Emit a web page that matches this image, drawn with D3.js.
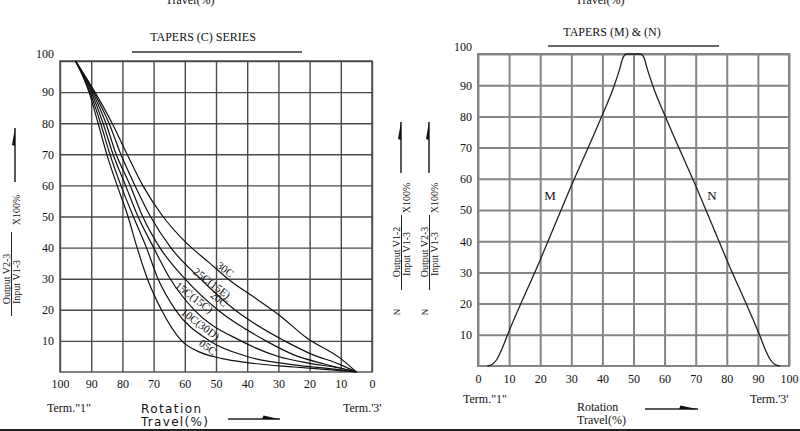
<!DOCTYPE html>
<html><head><meta charset="utf-8">
<script src="https://cdn.jsdelivr.net/npm/d3@7"></script>
<style>
body{margin:0;background:#fff;}
svg{display:block;background:#fff;}
text{font-family:"Liberation Serif","Times New Roman",serif;fill:#111;}
</style></head><body>
<svg id="c" width="800" height="431"></svg>
<script>
// ---------- DATA ----------
const tickValues = [0,10,20,30,40,50,60,70,80,90,100];
const yTickValues = [10,20,30,40,50,60,70,80,90,100];

// Tapers (C) series: [rotation travel %, output %]
const c30C = [[95,100],[88.8,90],[83.3,80],[78.5,70],[73.5,60],[67,50],[60,42],[52,35],[45,29],[37,23.5],[30,18.5],[21,11],[10,4.3],[5,0]];
const c25C = [[95,100],[89.2,90],[84.3,80],[80.5,70],[76,60],[71,50],[64.5,40],[55,30],[44,20],[28,10],[20,6],[10,2.3],[5,0]];
const c20C = [[95,100],[89.6,90],[85.3,80],[82,70],[77.5,60],[73.5,50],[68,40],[60,30],[49.5,20],[34,10],[25,5.5],[15,2.5],[5,0]];
const c15C = [[95,100],[90,90],[86.2,80],[83,70],[79,60],[75,50],[70,40],[64.7,30],[57,20],[42,10],[30,5],[20,2.8],[10,1.2],[5,0]];
const c10C = [[95,100],[90.4,90],[87,80],[84,70],[80.5,60],[76.5,50],[72.3,40],[68.6,30],[63,20],[52,10],[40,5],[25,2.3],[12,0.9],[5,0]];
const c05C = [[95,100],[90.7,90],[87.8,80],[85,70],[81.7,60],[78.2,50],[75.3,40],[72,30],[67.5,20],[61,10],[55,6.3],[48,4.3],[40,3],[25,1.6],[12,0.6],[5,0]];
const cSeries = [c30C,c25C,c20C,c15C,c10C,c05C];

const cLabels = ["30C","25C(15E)","20C","15C(15C)","10C(30D)","05C"];
const cLabelTravel = [47,51.3,49,57,55,52.6];
const cLabelOutput = [33,28.6,23.5,24,15.4,8];

// Tapers (M) & (N)
const mTaper = [[3,0],[4.5,0.5],[6,2],[7.5,5],[9.5,10],[20,34],[28.6,54.5],[40,80.5],[43.5,89],[45.5,95],[46.7,99],[47.8,100],[50,100]];
const nTaper = [[50,100],[52.2,100],[53.3,99],[54.5,95],[56.5,89],[60,80.5],[71.4,54.5],[80,34],[90.5,10],[92.5,5],[94,2],[95.5,0.5],[97,0]];
const mnLabels = ["M","N"];
const mnLabelTravel = [23.2,75.2];
const mnLabelOutput = [54.8,54.8];

// ---------- DRAW ----------
const svg = d3.select("#c");

function grid(x, y, col, w, padX, padY){
  const g = svg.append("g");
  const [x0,x1] = d3.extent(x.range());
  const [y1,y0] = [y.range()[0], y.range()[1]];
  const ax = g.append("g").attr("transform",`translate(0,${y1})`)
    .call(d3.axisBottom(x).tickValues(tickValues).tickSize(-(y1-y0)).tickPadding(padX).tickFormat(d3.format("d")));
  const ay = g.append("g").attr("transform",`translate(${x0},0)`)
    .call(d3.axisLeft(y).tickValues(yTickValues).tickSize(-(x1-x0)).tickPadding(padY).tickFormat(d3.format("d")));
  [ax,ay].forEach(a=>{
    a.select(".domain").remove();
    a.selectAll("line").attr("stroke",col).attr("stroke-width",w);
    a.selectAll("text").attr("font-size",12).attr("fill","#111")
      .style("font-family",'"Liberation Serif",serif');
  });
  ay.selectAll(".tick text").filter(d=>d===100).attr("dy","-0.3em");
  g.append("rect").attr("x",x0).attr("y",y0).attr("width",x1-x0).attr("height",y1-y0)
    .attr("fill","none").attr("stroke",col).attr("stroke-width",w);
  return g;
}

// Left chart
const xL = d3.scaleLinear().domain([100,0]).range([60,372]);
const yL = d3.scaleLinear().domain([0,100]).range([372,61]);
grid(xL,yL,"#4a4a4a",1.4,7.5,6);

const lineL = d3.line().x(d=>xL(d[0])).y(d=>yL(d[1])).curve(d3.curveMonotoneX);
svg.append("g").selectAll("path").data(cSeries).join("path")
  .attr("d",d=>lineL([...d].sort((a,b)=>b[0]-a[0])))
  .attr("fill","none").attr("stroke","#111").attr("stroke-width",1.2);

svg.append("g").selectAll("text").data(cLabels).join("text")
  .attr("transform",(d,i)=>`translate(${xL(cLabelTravel[i])},${yL(cLabelOutput[i])}) rotate(37)`)
  .attr("text-anchor","middle").attr("dy","0.35em").attr("font-size",11).text(d=>d);

// Right chart
const xR = d3.scaleLinear().domain([0,100]).range([478,789]);
const yR = d3.scaleLinear().domain([0,100]).range([366,54]);
grid(xR,yR,"#858585",2,8.5,6);

const lineR = d3.line().x(d=>xR(d[0])).y(d=>yR(d[1])).curve(d3.curveMonotoneX);
svg.append("g").selectAll("path").data([mTaper,nTaper]).join("path")
  .attr("d",lineR).attr("fill","none").attr("stroke","#222").attr("stroke-width",1.3);
svg.append("g").selectAll("text").data(mnLabels).join("text")
  .attr("x",(d,i)=>xR(mnLabelTravel[i])).attr("y",(d,i)=>yR(mnLabelOutput[i]))
  .attr("text-anchor","middle").attr("dy","0.35em").attr("font-size",13).text(d=>d);

// Titles
function txt(x,y,s,size,anchor,extra){
  const t = svg.append("text").attr("x",x).attr("y",y).attr("font-size",size)
    .attr("text-anchor",anchor||"start").text(s);
  if(extra) extra(t);
  return t;
}
txt(203,41,"TAPERS (C) SERIES",12,"middle");
svg.append("line").attr("x1",132).attr("x2",302).attr("y1",52).attr("y2",52).attr("stroke","#333").attr("stroke-width",1.5);
txt(612,36,"TAPERS (M) & (N)",12,"middle");
svg.append("line").attr("x1",548).attr("x2",719).attr("y1",46).attr("y2",46).attr("stroke","#333").attr("stroke-width",1.5);

// cut-off text at top
txt(190,4,"Travel(%)",12,"middle");
txt(600,4,"Travel(%)",12,"middle");

// bottom labels left
txt(47,412,"Term.\"1\"",12,"start");
txt(343,412,"Term.'3'",12,"start");
txt(141,413,"Rotation",12,"start",t=>t.style("font-family","'DejaVu Sans',sans-serif").attr("letter-spacing",1.4));
txt(141,426,"Travel(%)",12,"start",t=>t.style("font-family","'DejaVu Sans',sans-serif").attr("letter-spacing",1.3));
svg.append("line").attr("x1",228).attr("x2",280).attr("y1",419).attr("y2",419).attr("stroke","#222").attr("stroke-width",1.5);
svg.append("path").attr("d","M262,419 L263.5,415.5 L280,419.3 Z").attr("fill","#111");

// bottom labels right
txt(463,403,"Term.\"1\"",12,"start");
txt(750,403,"Term.'3'",12,"start");
txt(577,411,"Rotation",12,"start");
txt(577,424,"Travel(%)",12,"start");
svg.append("line").attr("x1",645).attr("x2",698).attr("y1",409).attr("y2",409).attr("stroke","#222").attr("stroke-width",1.5);
svg.append("path").attr("d","M679,409 L680.5,405.5 L698,409.3 Z").attr("fill","#111");

// vertical labels
function vtext(x,y,s,size){
  return svg.append("text").attr("transform",`translate(${x},${y}) rotate(-90)`)
    .attr("text-anchor","middle").attr("font-size",size).text(s);
}
function vArrow(x,yTop,yBot){
  svg.append("line").attr("x1",x).attr("x2",x).attr("y1",yTop).attr("y2",yBot).attr("stroke","#222").attr("stroke-width",1.5);
  svg.append("path").attr("d",`M${x},${yTop} L${x-3},${yTop+17} L${x},${yTop+18} Z`).attr("fill","#111");
}
// left
vArrow(15,128,182);
vtext(20,210,"X100%",10);
vtext(10,279,"Output V2-3",10);
svg.append("line").attr("x1",11.5).attr("x2",11.5).attr("y1",232).attr("y2",316).attr("stroke","#222").attr("stroke-width",1);
vtext(20,282,"Input V1-3",10);
// right 1
vArrow(401,122,173);
vtext(410,198,"X100%",10);
vtext(400,252,"Output V1-2",10);
svg.append("line").attr("x1",401.5).attr("x2",401.5).attr("y1",215).attr("y2",290).attr("stroke","#222").attr("stroke-width",1);
vtext(410,254,"Input V1-3",10);
vtext(400,312,"N",9);
// right 2
vArrow(429,122,173);
vtext(438,198,"X100%",10);
vtext(428,252,"Output V2-3",10);
svg.append("line").attr("x1",429.5).attr("x2",429.5).attr("y1",215).attr("y2",290).attr("stroke","#222").attr("stroke-width",1);
vtext(438,254,"Input V1-3",10);
vtext(428,312,"N",9);

// bottom border
svg.append("line").attr("x1",0).attr("x2",800).attr("y1",430).attr("y2",430).attr("stroke","#222").attr("stroke-width",2);
</script>
</body></html>
